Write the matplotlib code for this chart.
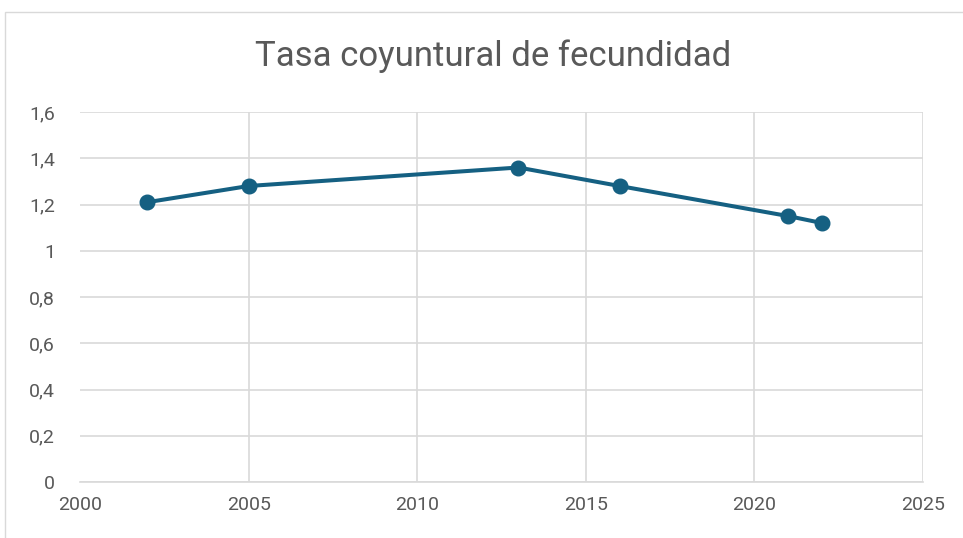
import matplotlib.pyplot as plt
from matplotlib.patches import Rectangle
from matplotlib.ticker import FuncFormatter

years = [2002, 2005, 2013, 2016, 2021, 2022]
tasa = [1.21, 1.28, 1.36, 1.28, 1.15, 1.12]

plt.rcParams['font.family'] = ['Roboto', 'DejaVu Sans']

fig = plt.figure(figsize=(9.63, 5.38), dpi=100)
W, H = 963, 538

# chart border (cropped on right and bottom)
fig.patches.append(Rectangle((5 / W, -0.1), 1.2, (H - 12) / H + 0.1,
                             transform=fig.transFigure, fill=False,
                             edgecolor='#d9d9d9', linewidth=1))

ax = fig.add_axes([80 / W, 56 / H, 843 / W, 370 / H])
ax.plot(years, tasa, color='#156082', linewidth=2.9, marker='o', markersize=10.5,
        zorder=3)

ax.set_xlim(2000, 2025)
ax.set_ylim(0, 1.6)
ax.set_xticks(range(2000, 2026, 5))
ax.set_yticks([0, 0.2, 0.4, 0.6, 0.8, 1.0, 1.2, 1.4, 1.6])
ax.yaxis.set_major_formatter(FuncFormatter(
    lambda v, p: '0' if v == 0 else ('1' if v == 1 else f'{v:.1f}'.replace('.', ','))))

ax.grid(True, color='#d9d9d9', linewidth=1.2)
ax.set_axisbelow(True)
ax.get_xgridlines()[0].set_visible(False)
for s in ['top', 'right', 'left']:
    ax.spines[s].set_visible(False)
ax.spines['bottom'].set_color('#d9d9d9')
ax.spines['bottom'].set_linewidth(1.2)
ax.tick_params(length=0, labelsize=14, colors='#595959', pad=10)
ax.tick_params(axis='y', pad=18)

fig.text(493 / W, 1 - 56 / H, 'Tasa coyuntural de fecundidad', ha='center',
         va='center', fontsize=25, color='#595959')

fig.savefig('out.png', dpi=100)
